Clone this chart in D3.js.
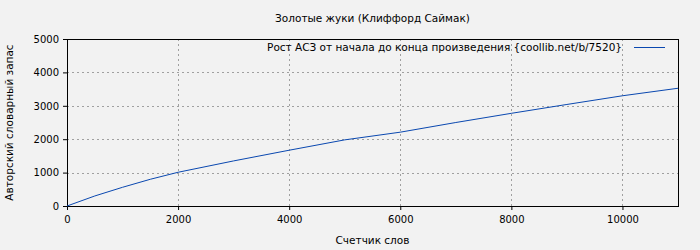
<!DOCTYPE html>
<html>
<head>
<meta charset="utf-8">
<script src="https://cdn.jsdelivr.net/npm/d3@7"></script>
<style>
  body { margin: 0; background: #f2f2f2; }
  svg { display: block; font-family: "DejaVu Sans", sans-serif; }
</style>
</head>
<body>
<svg width="700" height="250"></svg>
<script>
// word counter values and vocabulary size
var words = [0, 500, 1000, 1500, 2000, 3000, 4000, 5000, 6000, 7000, 8000, 9000, 10000, 11000];
var vocab = [0, 300, 560, 800, 1010, 1350, 1670, 1980, 2210, 2500, 2775, 3040, 3300, 3525];

var xTicks = [0, 2000, 4000, 6000, 8000, 10000];
var yTicks = [0, 1000, 2000, 3000, 4000, 5000];

var title = 'Золотые жуки (Клиффорд Саймак)';
var xTitle = 'Счетчик слов';
var yTitle = 'Авторский словарный запас';
var seriesName = 'Рост АСЗ от начала до конца произведения {coollib.net/b/7520}';

var svg = d3.select('svg');
var plotLeft = 67, plotRight = 678, plotTop = 39, plotBottom = 206;
var labelSize = 10.5;

var xScale = d3.scaleLinear().domain([0, 11000]).range([plotLeft, plotRight]);
var yScale = d3.scaleLinear().domain([0, 5000]).range([plotBottom, plotTop]);

// grid
svg.append('g').selectAll('line')
  .data(xTicks.filter(function (d) { return d > 0; }))
  .enter().append('line')
  .attr('x1', function (d) { return Math.round(xScale(d)) + 0.5; })
  .attr('x2', function (d) { return Math.round(xScale(d)) + 0.5; })
  .attr('y1', plotTop).attr('y2', plotBottom)
  .attr('stroke', '#a0a0a0').attr('stroke-dasharray', '2,3');

svg.append('g').selectAll('line')
  .data(yTicks.filter(function (d) { return d > 0 && d < 5000; }))
  .enter().append('line')
  .attr('x1', plotLeft).attr('x2', plotRight)
  .attr('y1', function (d) { return Math.round(yScale(d)) + 0.5; })
  .attr('y2', function (d) { return Math.round(yScale(d)) + 0.5; })
  .attr('stroke', '#a0a0a0').attr('stroke-dasharray', '2,3');

// axes
var xAxis = d3.axisBottom(xScale).tickValues(xTicks).tickSize(4).tickPadding(6).tickFormat(d3.format('d'));
var yAxis = d3.axisLeft(yScale).tickValues(yTicks).tickSize(4).tickPadding(4).tickFormat(d3.format('d'));

svg.append('g')
  .attr('transform', 'translate(0,' + plotBottom + ')')
  .call(xAxis)
  .call(function (g) { g.select('.domain').remove(); });

svg.append('g')
  .attr('transform', 'translate(' + plotLeft + ',0)')
  .call(yAxis)
  .call(function (g) { g.select('.domain').remove(); });

svg.selectAll('.tick text').attr('font-size', 10).attr('font-family', '"DejaVu Sans", sans-serif').attr('fill', '#000');

// frame
svg.append('rect')
  .attr('x', plotLeft + 0.5).attr('y', plotTop + 0.5)
  .attr('width', plotRight - plotLeft).attr('height', plotBottom - plotTop)
  .attr('fill', 'none').attr('stroke', '#000');

// line
var lineFunction = d3.line()
  .x(function (d, i) { return xScale(words[i]); })
  .y(function (d) { return yScale(d); });

svg.append('path')
  .datum(vocab)
  .attr('d', lineFunction)
  .attr('fill', 'none')
  .attr('stroke', '#0a48b0')
  .attr('stroke-width', 1);

// titles
svg.append('text').attr('x', (plotLeft + plotRight) / 2).attr('y', 22)
  .attr('text-anchor', 'middle').attr('font-size', labelSize).text(title);

svg.append('text').attr('x', (plotLeft + plotRight) / 2).attr('y', 244)
  .attr('text-anchor', 'middle').attr('font-size', labelSize).text(xTitle);

svg.append('text').attr('transform', 'translate(13,' + (plotTop + plotBottom) / 2 + ') rotate(-90)')
  .attr('text-anchor', 'middle').attr('font-size', labelSize).text(yTitle);

// legend
svg.append('text').attr('x', 622).attr('y', 51)
  .attr('text-anchor', 'end').attr('font-size', labelSize).text(seriesName);
svg.append('line')
  .attr('x1', 634).attr('x2', 665).attr('y1', 47.5).attr('y2', 47.5)
  .attr('stroke', '#0a48b0');
</script>
</body>
</html>
